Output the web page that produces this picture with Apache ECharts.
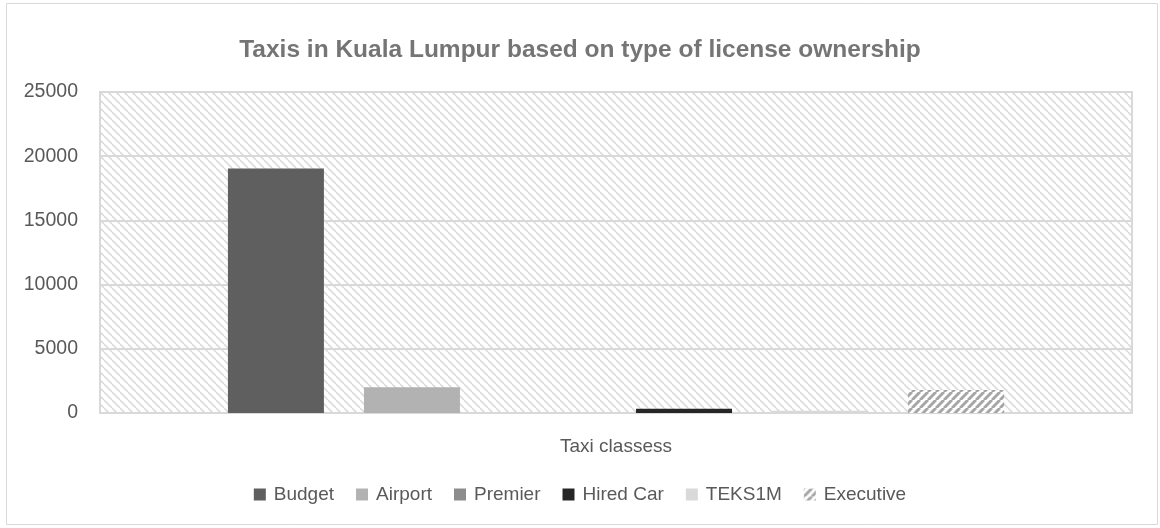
<!DOCTYPE html>
<html>
<head>
<meta charset="utf-8">
<script src="https://cdn.jsdelivr.net/npm/echarts@6/dist/echarts.min.js"></script>
<style>html,body{margin:0;padding:0;background:#fff}#c{width:1160px;height:528px}</style>
</head>
<body>
<div id="c"></div>
<script>
var categories = ['Taxi classess'];
var seriesNames = ['Budget', 'Airport', 'Premier', 'Hired Car', 'TEKS1M', 'Executive'];
var budget = [19050];
var airport = [2000];
var premier = [0];
var hiredCar = [340];
var teks1m = [170];
var executive = [1800];
var yTicks = [0, 5000, 10000, 15000, 20000, 25000];

var FONT = "'Liberation Sans', Arial, sans-serif";

function hatch(size, color, width, dir) {
  var c = document.createElement('canvas');
  c.width = size; c.height = size;
  var g = c.getContext('2d');
  g.fillStyle = '#fff';
  g.fillRect(0, 0, size, size);
  g.strokeStyle = color;
  g.lineWidth = width;
  for (var k = -1; k <= 1; k++) {
    g.beginPath();
    if (dir === 'back') {
      g.moveTo(k * size, 0);
      g.lineTo(k * size + size, size);
    } else {
      g.moveTo(k * size, size);
      g.lineTo(k * size + size, 0);
    }
    g.stroke();
  }
  return c;
}

var bgPattern = { image: hatch(8, '#dcdcdc', 1.6, 'back'), repeat: 'repeat' };
var exPattern = { image: hatch(8, '#a6a6a6', 3, 'fwd'), repeat: 'repeat' };

var values = [budget, airport, premier, hiredCar, teks1m, executive];
var colors = ['#5f5f5f', '#b2b2b2', '#8c8c8c', '#262626', '#d9d9d9', exPattern];

var series = seriesNames.map(function (n, i) {
  return {
    name: n,
    type: 'bar',
    data: values[i],
    barWidth: 96,
    barGap: '41.7%',
    itemStyle: { color: colors[i] },
    silent: true
  };
});

var chart = echarts.init(document.getElementById('c'), null, { renderer: 'canvas' });
chart.setOption({
  animation: false,
  backgroundColor: '#fff',
  title: {
    text: 'Taxis in Kuala Lumpur based on type of license ownership',
    left: 'center',
    top: 33,
    textStyle: { fontFamily: FONT, fontSize: 24.5, fontWeight: 'bold', color: '#757575' }
  },
  graphic: [{
    type: 'rect',
    shape: { x: 6.5, y: 3.5, width: 1151, height: 521 },
    style: { fill: null, stroke: '#d9d9d9', lineWidth: 1 },
    silent: true
  }],
  legend: {
    bottom: 19,
    left: 'center',
    itemWidth: 12,
    itemHeight: 12,
    itemGap: 22,
    icon: 'rect',
    textStyle: { fontFamily: FONT, fontSize: 19, color: '#595959', padding: [0, 0, 0, 3] },
    data: seriesNames
  },
  grid: {
    left: 100, right: 28, top: 92, bottom: 115,
    show: true,
    backgroundColor: bgPattern,
    borderColor: '#d9d9d9',
    borderWidth: 2,
    containLabel: false
  },
  xAxis: {
    type: 'category',
    data: categories,
    axisLine: { show: true, lineStyle: { color: '#d9d9d9', width: 2 } },
    axisTick: { show: false },
    axisLabel: { fontFamily: FONT, fontSize: 19, color: '#595959', margin: 24 }
  },
  yAxis: {
    type: 'value',
    min: yTicks[0],
    max: yTicks[yTicks.length - 1],
    interval: 5000,
    axisLine: { show: false },
    axisTick: { show: false },
    splitLine: { show: true, lineStyle: { color: '#d9d9d9', width: 2 } },
    axisLabel: { fontFamily: FONT, fontSize: 19.5, color: '#595959', margin: 22, formatter: function (v) { return String(v); } }
  },
  series: series
});
</script>
</body>
</html>
